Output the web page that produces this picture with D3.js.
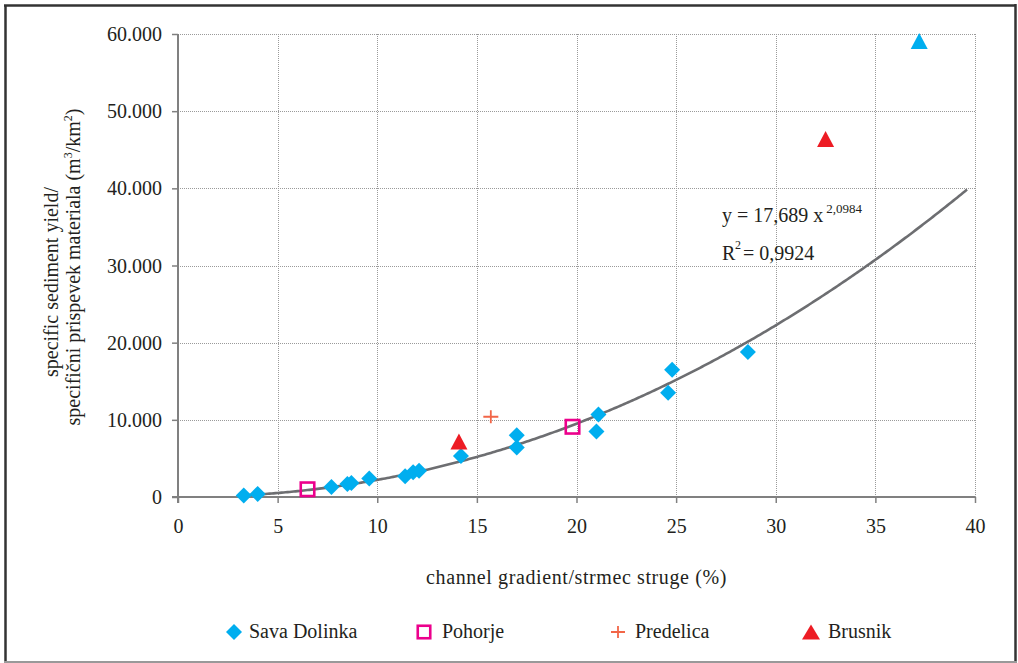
<!DOCTYPE html>
<html>
<head>
<meta charset="utf-8">
<script src="https://cdn.jsdelivr.net/npm/d3@7"></script>
<style>
  html, body { margin: 0; padding: 0; background: #fff; }
  svg { display: block; }
  svg text { font-family: "Liberation Serif", "DejaVu Serif", serif !important; fill: #231f20; }
</style>
</head>
<body>
<svg id="chart" width="1018" height="663"></svg>
<script>
// ---------- data ----------
const xTicks = [0, 5, 10, 15, 20, 25, 30, 35, 40];
const xTickLabels = ["0", "5", "10", "15", "20", "25", "30", "35", "40"];
const yTicks = [0, 10000, 20000, 30000, 40000, 50000, 60000];
const yTickLabels = ["0", "10.000", "20.000", "30.000", "40.000", "50.000", "60.000"];

const savaDolinkaX = [3.3, 4.0, 7.7, 8.5, 8.7, 9.6, 11.4, 11.8, 12.1, 14.2, 17.0, 17.0, 21.1, 21.0, 24.8, 24.6, 28.6];
const savaDolinkaY = [200, 400, 1300, 1700, 1800, 2400, 2700, 3200, 3400, 5300, 8000, 6400, 10700, 8500, 16500, 13500, 18800];
const pohorjeX = [6.5, 19.8];
const pohorjeY = [1000, 9100];
const predelicaX = [15.7];
const predelicaY = [10400];
const brusnikX = [14.1, 32.5];
const brusnikY = [7200, 46400];
const otherX = [37.2];
const otherY = [59100];

const seriesNames = ["Sava Dolinka", "Pohorje", "Predelica", "Brusnik"];

// power trendline as printed on the chart: y = 17,689 x^2,0984
const trendA = 17.689;
const trendB = 2.0984;
const trendFrom = 3.3;
const trendTo = 39.6;
const equationMain = "y = 17,689 x";
const equationExp = "2,0984";
const r2Value = "= 0,9924";

const xTitle = "channel gradient/strmec struge (%)";

// ---------- drawing ----------
const FONT = "'Liberation Serif', 'DejaVu Serif', serif";
const svg = d3.select("#chart");
const x = d3.scaleLinear().domain([0, 40]).range([178, 975]);
const y = d3.scaleLinear().domain([0, 60000]).range([497, 34]);

const blue = "#00aeef", magenta = "#ec008c", orange = "#f26648", red = "#ed1c24";
const axisGray = "#808080", gridGray = "#9a9a9a";

// frame
svg.append("line").attr("x1", 5.5).attr("y1", 5.5).attr("x2", 5.5).attr("y2", 662).attr("stroke", "#333").attr("stroke-width", 2.5);
svg.append("line").attr("x1", 4).attr("y1", 5.5).attr("x2", 1016).attr("y2", 5.5).attr("stroke", "#333").attr("stroke-width", 2.5);
svg.append("line").attr("x1", 1015.5).attr("y1", 4).attr("x2", 1015.5).attr("y2", 662).attr("stroke", "#333").attr("stroke-width", 2.5);
svg.append("line").attr("x1", 4).attr("y1", 662).attr("x2", 1017).attr("y2", 662).attr("stroke", "#999").attr("stroke-width", 2);

// grid
const grid = svg.append("g");
grid.selectAll(".vg").data(xTicks.filter(d => d > 0)).enter().append("line")
  .attr("x1", d => Math.round(x(d)) + 0.5).attr("x2", d => Math.round(x(d)) + 0.5)
  .attr("y1", y(60000)).attr("y2", y(0))
  .attr("stroke", gridGray).attr("stroke-width", 1).attr("stroke-dasharray", "1,1");
grid.selectAll(".hg").data(yTicks.filter(d => d > 0)).enter().append("line")
  .attr("y1", d => Math.round(y(d)) + 0.5).attr("y2", d => Math.round(y(d)) + 0.5)
  .attr("x1", x(0)).attr("x2", x(40))
  .attr("stroke", gridGray).attr("stroke-width", 1).attr("stroke-dasharray", "1,1");

// axes
const xAxis = d3.axisBottom(x).tickValues(xTicks).tickFormat((d, i) => xTickLabels[i]).tickSize(6).tickSizeOuter(0).tickPadding(16);
const yAxis = d3.axisLeft(y).tickValues(yTicks).tickFormat((d, i) => yTickLabels[i]).tickSize(6).tickSizeOuter(0).tickPadding(10);

const gx = svg.append("g").attr("transform", `translate(0,${y(0)})`).call(xAxis);
const gy = svg.append("g").attr("transform", `translate(${x(0)},0)`).call(yAxis);
[gx, gy].forEach(g => {
  g.attr("font-family", null).attr("font-size", null);
  g.select(".domain").attr("stroke", axisGray).attr("stroke-width", 2);
  g.selectAll(".tick line").attr("stroke", axisGray).attr("stroke-width", 1.5);
  g.selectAll(".tick text").style("font-family", FONT).style("font-size", "20px").attr("fill", "#231f20");
});
gy.select(".domain").attr("d", `M0,${y(60000)}V${y(0) + 6}`);
gx.select(".domain").attr("d", `M${x(0) - 6},0H${x(40)}`);
gy.selectAll(".tick text").attr("dy", "0.33em");
gx.selectAll(".tick text").attr("dy", "0.71em");

// trendline
const trendPts = d3.range(trendFrom, trendTo + 0.0001, 0.1).map(v => [v, trendA * Math.pow(v, trendB)]);
svg.append("path").datum(trendPts)
  .attr("d", d3.line().x(d => x(d[0])).y(d => y(d[1])))
  .attr("fill", "none").attr("stroke", "#6d6e71").attr("stroke-width", 2.6);

// marker helpers
function diamond(g, cx, cy, s) {
  g.append("path").attr("d", `M${cx},${cy - s}L${cx + s},${cy}L${cx},${cy + s}L${cx - s},${cy}Z`).attr("fill", blue);
}
function triangle(g, cx, cy, w, h, col) {
  g.append("path").attr("d", `M${cx},${cy - h / 2}L${cx + w / 2},${cy + h / 2}L${cx - w / 2},${cy + h / 2}Z`).attr("fill", col);
}
function square(g, cx, cy, s) {
  g.append("rect").attr("x", cx - s / 2).attr("y", cy - s / 2).attr("width", s).attr("height", s)
    .attr("fill", "none").attr("stroke", magenta).attr("stroke-width", 2.6);
}
function plus(g, cx, cy, w, h) {
  g.append("path").attr("d", `M${cx - w / 2},${cy}H${cx + w / 2}M${cx},${cy - h / 2}V${cy + h / 2}`)
    .attr("stroke", orange).attr("stroke-width", 1.8).attr("fill", "none");
}

const marks = svg.append("g");
savaDolinkaX.forEach((v, i) => diamond(marks, x(v), y(savaDolinkaY[i]), 8));
pohorjeX.forEach((v, i) => square(marks, x(v), y(pohorjeY[i]), 13.5));
predelicaX.forEach((v, i) => plus(marks, x(v), y(predelicaY[i]), 15, 13));
brusnikX.forEach((v, i) => triangle(marks, x(v), y(brusnikY[i]), 17, 16, red));
otherX.forEach((v, i) => triangle(marks, x(v), y(otherY[i]), 17, 16, blue));

// equation
const eq = svg.append("text").attr("x", 722).attr("y", 222).style("font-size", "20px");
eq.append("tspan").text(equationMain);
eq.append("tspan").attr("dx", 3).attr("dy", -9).style("font-size", "13px").text(equationExp);
svg.append("text").attr("x", 722).attr("y", 260).style("font-size", "20px").text("R");
svg.append("text").attr("x", 735).attr("y", 249).style("font-size", "12px").text("2");
svg.append("text").attr("x", 743).attr("y", 260).style("font-size", "20px").text(r2Value);

// axis titles
svg.append("text").attr("x", x(20)).attr("y", 584).attr("text-anchor", "middle").style("font-size", "20px")
  .style("letter-spacing", "0.6px").text(xTitle);

const yt1 = svg.append("text").attr("transform", "translate(58,282) rotate(-90)").attr("text-anchor", "middle").style("font-size", "20px");
yt1.text("specific sediment yield/");
const yt2 = svg.append("text").attr("transform", "translate(80,267) rotate(-90)").attr("text-anchor", "middle").style("font-size", "20px");
yt2.append("tspan").text("specifični prispevek materiala (m");
yt2.append("tspan").style("font-size", "12px").attr("dy", -8).text("3");
yt2.append("tspan").attr("dy", 8).text("/km");
yt2.append("tspan").style("font-size", "12px").attr("dy", -8).text("2");
yt2.append("tspan").attr("dy", 8).text(")");

// legend
const leg = svg.append("g");
const legY = 632, legBase = 638;
const legendItems = [
  { name: seriesNames[0], mx: 234, tx: 249, draw: (g, cx) => diamond(g, cx, legY, 8) },
  { name: seriesNames[1], mx: 424, tx: 442, draw: (g, cx) => square(g, cx, legY, 12.5) },
  { name: seriesNames[2], mx: 618, tx: 635, draw: (g, cx) => plus(g, cx, legY, 14, 12) },
  { name: seriesNames[3], mx: 811, tx: 828, draw: (g, cx) => triangle(g, cx, legY, 18, 15, red) }
];
legendItems.forEach(it => {
  it.draw(leg, it.mx);
  leg.append("text").attr("x", it.tx).attr("y", legBase).style("font-size", "20px").text(it.name);
});

svg.selectAll("text").style("font-family", FONT);
</script>
</body>
</html>
